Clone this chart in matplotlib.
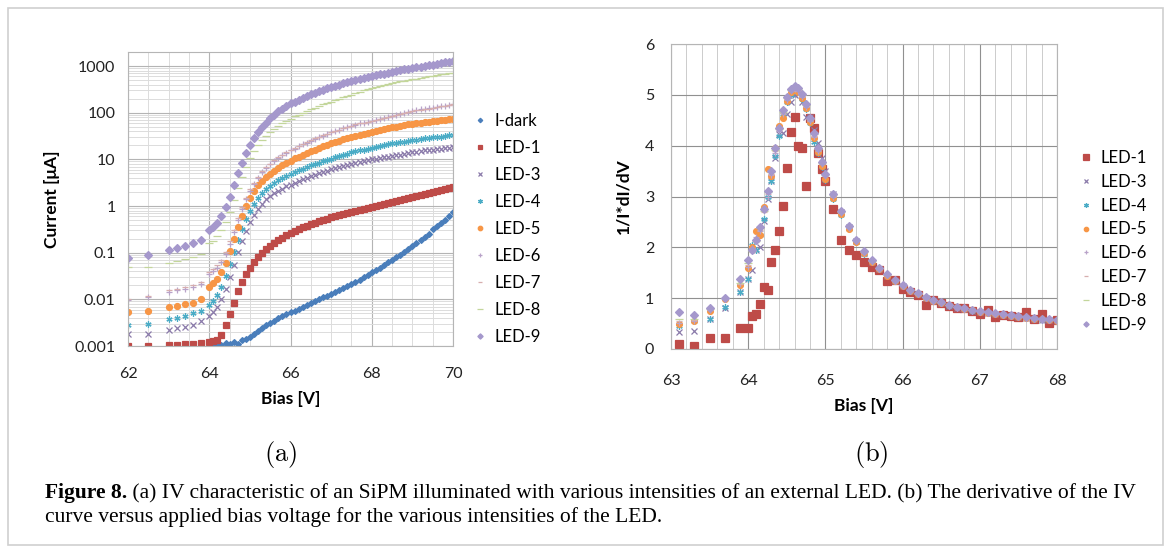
"""Recreate the two-panel SiPM figure: (a) IV curves on a log axis and
(b) the log-derivative 1/I*dI/dV, with the figure caption below."""
import numpy as np
import matplotlib

matplotlib.use("Agg")
import matplotlib.pyplot as plt
from matplotlib.patches import Rectangle
from matplotlib.ticker import MultipleLocator, LogLocator, NullFormatter

W, H = 1171, 553
DPI = 100

# ---------------------------------------------------------------- data (a)
# bias points below breakdown, then the 0.1 V sweep 64.0 ... 70.0
bias_low = [62.0, 62.5, 63.0, 63.2, 63.4, 63.6, 63.8]
bias_sweep = list(np.round(np.arange(640, 701) / 10, 1))
bias_led = bias_low + bias_sweep
bias_dark = bias_sweep[1:]

# log10 of current in uA
dark_log = [-2.97, -2.95, -2.98, -2.93, -2.96, -2.92, -2.95, -2.88, -2.85,
            -2.80, -2.74, -2.68, -2.62, -2.56, -2.51, -2.46, -2.41, -2.36, -2.32,
            -2.28, -2.24, -2.20, -2.16, -2.12, -2.08, -2.04, -2.00, -1.96, -1.92,
            -1.88, -1.84, -1.80, -1.76, -1.71, -1.67, -1.62, -1.58, -1.53, -1.48,
            -1.42, -1.37, -1.32, -1.26, -1.21, -1.15, -1.10, -1.04, -0.98, -0.92,
            -0.86, -0.80, -0.73, -0.67, -0.60, -0.50, -0.43, -0.36, -0.29, -0.21, -0.13]
led1_log = [-3.00, -3.00, -2.98, -2.97, -2.96, -2.95, -2.93,
            -2.92, -2.90, -2.87, -2.76, -2.56, -2.32, -2.07, -1.83, -1.63, -1.46,
            -1.32, -1.20, -1.09, -1.00, -0.92, -0.85, -0.79, -0.73, -0.68, -0.63,
            -0.58, -0.54, -0.50, -0.46, -0.42, -0.39, -0.36, -0.33, -0.30, -0.27,
            -0.24, -0.22, -0.19, -0.17, -0.15, -0.13, -0.11, -0.09, -0.06, -0.04,
            -0.02, 0.00, 0.02, 0.04, 0.06, 0.08, 0.10, 0.13, 0.15, 0.17,
            0.19, 0.21, 0.23, 0.25, 0.28, 0.30, 0.32, 0.34, 0.36, 0.38, 0.40]
led3_log = [-2.74, -2.74, -2.66, -2.62, -2.59, -2.54, -2.47,
            -2.35, -2.27, -2.16, -2.00, -1.78, -1.53, -1.26, -0.99, -0.75, -0.53,
            -0.35, -0.19, -0.06, 0.05, 0.14, 0.21, 0.27, 0.32, 0.37, 0.42,
            0.46, 0.50, 0.54, 0.57, 0.61, 0.64, 0.67, 0.70, 0.73, 0.76,
            0.79, 0.81, 0.83, 0.86, 0.88, 0.90, 0.92, 0.94, 0.96, 0.98,
            1.00, 1.01, 1.03, 1.04, 1.06, 1.07, 1.09, 1.10, 1.12, 1.13,
            1.15, 1.16, 1.17, 1.19, 1.20, 1.21, 1.22, 1.23, 1.24, 1.25, 1.26]
led4_log = [-2.55, -2.52, -2.42, -2.39, -2.35, -2.30, -2.24,
            -2.12, -2.03, -1.90, -1.73, -1.50, -1.25, -0.98, -0.72, -0.49, -0.28,
            -0.10, 0.05, 0.17, 0.27, 0.36, 0.43, 0.49, 0.55, 0.60, 0.65,
            0.69, 0.73, 0.77, 0.80, 0.84, 0.87, 0.90, 0.93, 0.96, 0.99,
            1.01, 1.04, 1.07, 1.10, 1.12, 1.15, 1.17, 1.19, 1.21, 1.23,
            1.25, 1.27, 1.29, 1.30, 1.32, 1.34, 1.35, 1.37, 1.38, 1.40,
            1.41, 1.42, 1.44, 1.45, 1.46, 1.47, 1.48, 1.49, 1.50, 1.52, 1.53]
led5_log = [-2.28, -2.25, -2.17, -2.14, -2.11, -2.07, -2.00,
            -1.73, -1.66, -1.56, -1.42, -1.22, -0.97, -0.71, -0.45, -0.21, 0.00,
            0.18, 0.32, 0.44, 0.54, 0.62, 0.69, 0.75, 0.81, 0.87, 0.92,
            0.97, 1.02, 1.06, 1.10, 1.14, 1.18, 1.21, 1.25, 1.28, 1.31,
            1.34, 1.37, 1.40, 1.43, 1.46, 1.49, 1.51, 1.53, 1.55, 1.57,
            1.59, 1.61, 1.63, 1.65, 1.67, 1.69, 1.70, 1.72, 1.73, 1.75,
            1.76, 1.77, 1.79, 1.80, 1.81, 1.82, 1.83, 1.84, 1.85, 1.86, 1.87]
led6_log = [-2.02, -1.96, -1.84, -1.81, -1.78, -1.74, -1.68,
            -1.46, -1.40, -1.32, -1.20, -1.03, -0.81, -0.56, -0.30, -0.06, 0.15,
            0.33, 0.48, 0.61, 0.72, 0.82, 0.90, 0.97, 1.03, 1.09, 1.14,
            1.19, 1.23, 1.28, 1.32, 1.36, 1.40, 1.44, 1.47, 1.51, 1.55,
            1.58, 1.61, 1.64, 1.67, 1.70, 1.72, 1.74, 1.77, 1.79, 1.81,
            1.83, 1.85, 1.87, 1.89, 1.91, 1.93, 1.95, 1.97, 2.00, 2.02,
            2.04, 2.05, 2.07, 2.08, 2.10, 2.11, 2.13, 2.14, 2.15, 2.17, 2.18]
led7_log = [-2.00, -1.92, -1.80, -1.77, -1.73, -1.70, -1.63,
            -1.42, -1.36, -1.27, -1.15, -0.98, -0.76, -0.51, -0.26, -0.03, 0.18,
            0.36, 0.50, 0.63, 0.74, 0.83, 0.91, 0.98, 1.04, 1.10, 1.15,
            1.20, 1.24, 1.29, 1.33, 1.37, 1.41, 1.45, 1.48, 1.52, 1.55,
            1.58, 1.61, 1.64, 1.67, 1.70, 1.72, 1.75, 1.77, 1.79, 1.81,
            1.83, 1.85, 1.87, 1.89, 1.91, 1.93, 1.95, 1.97, 1.99, 2.01,
            2.03, 2.05, 2.06, 2.08, 2.09, 2.11, 2.12, 2.14, 2.15, 2.16, 2.18]
led8_log = [-1.31, -1.30, -1.22, -1.18, -1.14, -1.09, -1.02,
            -0.80, -0.74, -0.65, -0.52, -0.34, -0.12, 0.13, 0.38, 0.62, 0.84,
            1.02, 1.17, 1.30, 1.41, 1.50, 1.58, 1.65, 1.72, 1.77, 1.82,
            1.87, 1.92, 1.96, 2.00, 2.04, 2.08, 2.11, 2.15, 2.18, 2.21,
            2.24, 2.27, 2.30, 2.33, 2.36, 2.39, 2.42, 2.45, 2.48, 2.51,
            2.53, 2.55, 2.58, 2.60, 2.62, 2.64, 2.66, 2.67, 2.69, 2.70,
            2.72, 2.73, 2.75, 2.76, 2.78, 2.79, 2.80, 2.82, 2.83, 2.85, 2.86]
led9_log = [-1.12, -1.04, -0.95, -0.90, -0.85, -0.80, -0.73,
            -0.52, -0.45, -0.36, -0.22, -0.03, 0.20, 0.45, 0.70, 0.93, 1.13,
            1.30, 1.45, 1.58, 1.69, 1.79, 1.88, 1.96, 2.03, 2.09, 2.15,
            2.20, 2.24, 2.28, 2.32, 2.36, 2.40, 2.43, 2.46, 2.49, 2.52,
            2.55, 2.58, 2.60, 2.63, 2.65, 2.68, 2.70, 2.72, 2.74, 2.76,
            2.78, 2.80, 2.82, 2.84, 2.86, 2.88, 2.89, 2.91, 2.93, 2.94,
            2.96, 2.97, 2.99, 3.00, 3.02, 3.03, 3.05, 3.06, 3.08, 3.09, 3.11]

current_ticks = [0.001, 0.01, 0.1, 1, 10, 100, 1000]
current_labels = ["0.001", "0.01", "0.1", "1", "10", "100", "1000"]

# ---------------------------------------------------------------- data (b)
bias_d = ([63.1, 63.3, 63.5, 63.7, 63.9]
          + list(np.round(np.arange(1280, 1301) / 20, 2))
          + list(np.round(np.arange(651, 681) / 10, 1)))

d_led1 = [0.10, 0.05, 0.22, 0.22, 0.42,
          0.42, 0.65, 0.68, 0.88, 1.22, 1.16, 1.71, 1.95, 2.33, 2.82, 3.56,
          4.27, 4.56, 4.00, 3.96, 3.20, 4.55, 4.35, 3.86, 3.54, 3.30,
          2.75, 2.14, 1.95, 1.85, 1.72, 1.62, 1.55, 1.33, 1.35, 1.18,
          1.12, 1.07, 0.86, 0.96, 0.90, 0.84, 0.80, 0.80, 0.75, 0.68,
          0.77, 0.62, 0.66, 0.64, 0.62, 0.72, 0.60, 0.68, 0.52, 0.58]
d_led3 = [0.33, 0.35, 0.60, 0.80, 1.13,
          1.38, 1.55, 1.95, 2.00, 2.52, 2.95, 3.30, 3.75, 4.22, 4.25, 4.62,
          4.85, 5.00, 5.02, 4.85, 4.57, 4.57, 4.30, 4.05, 3.75, 3.50,
          3.05, 2.70, 2.40, 2.12, 1.88, 1.72, 1.57, 1.44, 1.33, 1.23,
          1.15, 1.08, 1.01, 0.95, 0.90, 0.85, 0.81, 0.78, 0.75, 0.73,
          0.70, 0.68, 0.66, 0.64, 0.63, 0.61, 0.59, 0.58, 0.57, 0.55]
d_led4 = [0.45, 0.55, 0.60, 0.82, 1.13,
          1.38, 2.05, 1.95, 2.25, 2.55, 3.00, 3.30, 3.80, 4.20, 4.62, 4.85,
          5.00, 5.08, 5.05, 4.92, 4.72, 4.45, 4.08, 3.85, 3.58, 3.33,
          2.96, 2.64, 2.36, 2.10, 1.87, 1.71, 1.57, 1.44, 1.33, 1.23,
          1.15, 1.08, 1.01, 0.95, 0.90, 0.85, 0.82, 0.78, 0.75, 0.73,
          0.71, 0.68, 0.66, 0.65, 0.63, 0.61, 0.60, 0.58, 0.57, 0.56]
d_led5 = [0.50, 0.55, 0.75, 0.98, 1.25,
          1.60, 2.00, 2.32, 2.25, 2.80, 3.55, 3.40, 3.95, 4.38, 4.55, 4.88,
          5.05, 5.10, 5.06, 4.94, 4.74, 4.46, 4.16, 3.88, 3.60, 3.35,
          2.98, 2.66, 2.37, 2.10, 1.88, 1.72, 1.57, 1.44, 1.33, 1.24,
          1.15, 1.08, 1.01, 0.95, 0.90, 0.86, 0.82, 0.79, 0.76, 0.73,
          0.71, 0.69, 0.67, 0.65, 0.63, 0.61, 0.60, 0.59, 0.57, 0.56]
d_led6 = [0.52, 0.56, 0.76, 0.98, 1.27,
          1.62, 1.98, 2.20, 2.32, 2.75, 3.00, 3.42, 3.85, 4.28, 4.62, 4.90,
          5.07, 5.12, 5.08, 4.96, 4.76, 4.48, 4.18, 3.90, 3.63, 3.40,
          3.00, 2.68, 2.39, 2.12, 1.89, 1.72, 1.58, 1.45, 1.34, 1.24,
          1.16, 1.08, 1.02, 0.96, 0.90, 0.86, 0.82, 0.79, 0.76, 0.73,
          0.71, 0.69, 0.67, 0.65, 0.63, 0.62, 0.60, 0.59, 0.58, 0.57]
d_led7 = [0.55, 0.58, 0.77, 0.98, 1.28,
          1.65, 1.90, 2.10, 2.35, 2.70, 3.05, 3.45, 3.90, 4.30, 4.64, 4.92,
          5.08, 5.14, 5.10, 4.98, 4.78, 4.50, 4.20, 3.92, 3.65, 3.42,
          3.02, 2.69, 2.40, 2.13, 1.90, 1.73, 1.58, 1.45, 1.34, 1.25,
          1.16, 1.09, 1.02, 0.96, 0.91, 0.86, 0.83, 0.79, 0.76, 0.74,
          0.71, 0.69, 0.67, 0.65, 0.64, 0.62, 0.60, 0.59, 0.58, 0.57]
d_led8 = [0.60, 0.60, 0.78, 1.00, 1.30,
          1.70, 1.92, 2.12, 2.38, 2.72, 3.08, 3.48, 3.92, 4.32, 4.66, 4.93,
          5.10, 5.15, 5.12, 5.00, 4.80, 4.52, 4.22, 3.93, 3.66, 3.43,
          3.03, 2.70, 2.41, 2.14, 1.91, 1.74, 1.59, 1.46, 1.35, 1.25,
          1.17, 1.09, 1.03, 0.97, 0.91, 0.87, 0.83, 0.80, 0.77, 0.74,
          0.72, 0.70, 0.68, 0.66, 0.64, 0.62, 0.61, 0.60, 0.58, 0.57]
d_led9 = [0.72, 0.66, 0.80, 1.00, 1.38,
          1.75, 1.95, 2.15, 2.40, 2.75, 3.10, 3.50, 3.95, 4.35, 4.70, 4.95,
          5.12, 5.17, 5.13, 5.02, 4.82, 4.55, 4.25, 3.95, 3.68, 3.45,
          3.05, 2.72, 2.42, 2.15, 1.92, 1.75, 1.60, 1.47, 1.36, 1.26,
          1.17, 1.10, 1.03, 0.97, 0.92, 0.87, 0.83, 0.80, 0.77, 0.74,
          0.72, 0.70, 0.68, 0.66, 0.64, 0.63, 0.61, 0.60, 0.59, 0.58]

caption_bold = "Figure 8."
caption_rest = (" (a) IV characteristic of an SiPM illuminated with various intensities "
                "of an external LED. (b) The derivative of the IV")
caption_line2 = "curve versus applied bias voltage for the various intensities of the LED."

# ---------------------------------------------------------------- styles
# name: (colour, marker, size (a), size (b))
STYLE = {
    "I-dark": ("#4a7ebb", "D", 3.0, 3.0),
    "LED-1": ("#be4b48", "s", 4.2, 5.2),
    "LED-3": ("#8a7aaa", "x", 4.0, 4.2),
    "LED-4": ("#4bacc6", (6, 2, 0), 4.4, 4.6),
    "LED-5": ("#f79646", "o", 4.3, 4.2),
    "LED-6": ("#b9a3c9", "+", 4.4, 4.6),
    "LED-7": ("#d7aeae", "_", 4.0, 4.4),
    "LED-8": ("#c3d69b", "_", 5.5, 5.5),
    "LED-9": ("#a598cc", "D", 3.6, 3.6),
}

plt.rcParams["font.family"] = ["Lato", "DejaVu Sans"]
plt.rcParams["mathtext.fontset"] = "cm"
TICK_FS = 11.5
LAB_FS = 12.5
LEG_FS = 12


def px_axes(fig, left, top, right, bottom):
    return fig.add_axes([left / W, 1 - bottom / H, (right - left) / W, (bottom - top) / H])


def style_axes(ax):
    for sp in ax.spines.values():
        sp.set_color("#b5b5b5")
        sp.set_linewidth(0.8)
    ax.tick_params(which="both", length=0, labelsize=TICK_FS, colors="#222222")
    ax.set_axisbelow(True)


fig = plt.figure(figsize=(W / DPI, H / DPI), dpi=DPI)
fig.patch.set_facecolor("white")
fig.patches.append(Rectangle((8 / W, 1 - 545 / H), 1155 / W, 537 / H,
                             transform=fig.transFigure, fill=False,
                             ec="#cfcfcf", lw=1.2))

# ---------------------------------------------------------------- panel (a)
ax_a = px_axes(fig, 128, 52, 453, 346)
style_axes(ax_a)
series_a = [("I-dark", bias_dark, dark_log), ("LED-1", bias_led, led1_log),
            ("LED-3", bias_led, led3_log), ("LED-4", bias_led, led4_log),
            ("LED-5", bias_led, led5_log), ("LED-6", bias_led, led6_log),
            ("LED-7", bias_led, led7_log), ("LED-8", bias_led, led8_log),
            ("LED-9", bias_led, led9_log)]
for name, xs, logs in series_a:
    col, mk, ms, _ = STYLE[name]
    ax_a.plot(xs, np.power(10.0, logs), ls="none", marker=mk, ms=ms, color=col,
              mec=col, mew=0.9, label=name)
ax_a.set_yscale("log")
ax_a.set_xlim(62, 70)
ax_a.set_ylim(1e-3, 2000)
ax_a.set_xticks([62, 64, 66, 68, 70])
ax_a.xaxis.set_minor_locator(MultipleLocator(0.5))
ax_a.set_yticks(current_ticks, current_labels)
ax_a.yaxis.set_minor_locator(LogLocator(base=10, subs=np.arange(2, 10)))
ax_a.yaxis.set_minor_formatter(NullFormatter())
ax_a.grid(which="major", color="#b4b4b4", lw=0.8)
ax_a.grid(which="minor", color="#dcdcdc", lw=0.7)
ax_a.tick_params(axis="y", pad=9)
ax_a.tick_params(axis="x", pad=15)
ax_a.set_xlabel("Bias [V]", fontsize=LAB_FS, fontweight="bold", labelpad=7)
ax_a.set_ylabel("Current [\u03bcA]", fontsize=LAB_FS, fontweight="bold", labelpad=10)
ax_a.legend(loc="upper left", bbox_to_anchor=(474 / W, 1 - 113 / H),
            bbox_transform=fig.transFigure, frameon=False, fontsize=LEG_FS,
            handlelength=0.7, handletextpad=0.5, labelspacing=0.66,
            borderpad=0, borderaxespad=0, numpoints=1, markerscale=0.75)

# ---------------------------------------------------------------- panel (b)
ax_b = px_axes(fig, 671, 44, 1057, 349)
style_axes(ax_b)
series_b = [("LED-1", d_led1), ("LED-3", d_led3), ("LED-4", d_led4),
            ("LED-5", d_led5), ("LED-6", d_led6), ("LED-7", d_led7),
            ("LED-8", d_led8), ("LED-9", d_led9)]
for name, vals in series_b:
    col, mk, _, ms = STYLE[name]
    ax_b.plot(bias_d, vals, ls="none", marker=mk, ms=ms, color=col, mec=col,
              mew=0.9, label=name)
ax_b.set_xlim(63, 68)
ax_b.set_ylim(0, 6)
ax_b.set_xticks([63, 64, 65, 66, 67, 68])
ax_b.xaxis.set_minor_locator(MultipleLocator(0.2))
ax_b.set_yticks([0, 1, 2, 3, 4, 5, 6])
ax_b.grid(which="major", color="#909090", lw=0.8)
ax_b.grid(which="minor", axis="x", color="#cccccc", lw=0.7)
ax_b.tick_params(axis="y", pad=12)
ax_b.tick_params(axis="x", pad=18)
ax_b.set_xlabel("Bias [V]", fontsize=LAB_FS, fontweight="bold", labelpad=7)
ax_b.set_ylabel("1/I*dI/dV", fontsize=LAB_FS, fontweight="bold", labelpad=10)
ax_b.legend(loc="upper left", bbox_to_anchor=(1080 / W, 1 - 150 / H),
            bbox_transform=fig.transFigure, frameon=False, fontsize=LEG_FS,
            handlelength=0.7, handletextpad=0.5, labelspacing=0.47,
            borderpad=0, borderaxespad=0, numpoints=1, markerscale=0.75)

# ---------------------------------------------------------------- labels, caption
over = fig.add_axes([0, 0, 1, 1], zorder=-1)
over.set_axis_off()
over.set_xlim(0, W)
over.set_ylim(H, 0)
over.text(281, 455, r"$\mathrm{(a)}$", fontsize=19, ha="center", va="center")
over.text(871, 455, r"$\mathrm{(b)}$", fontsize=19, ha="center", va="center")

CAP_FS = 15.5
serif = ["Liberation Serif", "DejaVu Serif"]
t1 = over.text(45, 498, caption_bold, fontsize=CAP_FS, fontweight="bold",
               family=serif, va="baseline")
over.annotate(caption_rest, xy=(1, 0), xycoords=t1, va="bottom", ha="left",
              fontsize=CAP_FS, family=serif)
over.text(45, 522, caption_line2, fontsize=CAP_FS, family=serif, va="baseline")

fig.savefig("out.png", dpi=DPI)
